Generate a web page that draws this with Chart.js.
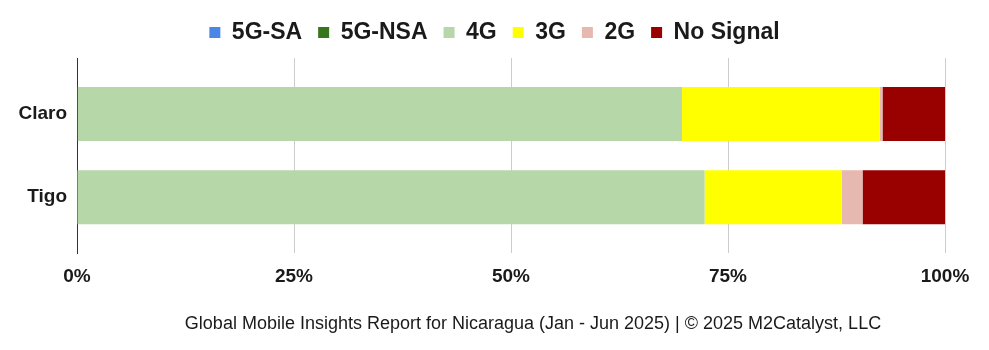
<!DOCTYPE html>
<html>
<head>
<meta charset="utf-8">
<script src="https://cdn.jsdelivr.net/npm/chart.js@4"></script>
<style>
  html, body { margin: 0; padding: 0; background: #fff; }
  .wrap { position: relative; width: 989px; height: 350px; }
  #footer {
    position: absolute; left: 0; width: 1066px; top: 313px;
    text-align: center; font: 18px "Liberation Sans", Arial, sans-serif; color: #1a1a1a;
  }
</style>
</head>
<body>
<div class="wrap">
  <canvas id="chart" width="989" height="350"></canvas>
  <div id="footer">Global Mobile Insights Report for Nicaragua (Jan - Jun 2025) | © 2025 M2Catalyst, LLC</div>
</div>
<script>
/* operadoras e séries (% do tempo em cada tecnologia) */
const operators = ['Claro', 'Tigo'];
const sa5g = [0, 0];
const nsa5g = [0.1, 0];
const lte4g = [69.6, 72.3];
const umts3g = [22.8, 15.8];
const gsm2g = [0.3, 2.4];
const noSignal = [7.2, 9.5];
const xTicks = [0, 25, 50, 75, 100];

const font = '"Liberation Sans", Arial, sans-serif';

/* eixo y numérico (0, 1, ...) para controlar o espaçamento entre as barras */
const rows = (arr) => arr.map((v, i) => ({ x: v, y: i }));

/* espaço extra abaixo da legenda */
const legendGap = {
  id: 'legendGap',
  beforeInit(chart) {
    const fit = chart.legend.fit;
    chart.legend.fit = function () {
      fit.bind(chart.legend)();
      this.height += 4;
    };
  }
};

const ctx = document.getElementById('chart').getContext('2d');
new Chart(ctx, {
  type: 'bar',
  data: {
    datasets: [
      { label: '5G-SA', data: rows(sa5g), backgroundColor: '#4a86e8' },
      { label: '5G-NSA', data: rows(nsa5g), backgroundColor: '#38761d' },
      { label: '4G', data: rows(lte4g), backgroundColor: '#b6d7a8' },
      { label: '3G', data: rows(umts3g), backgroundColor: '#ffff00' },
      { label: '2G', data: rows(gsm2g), backgroundColor: '#e6b8af' },
      { label: 'No Signal', data: rows(noSignal), backgroundColor: '#990000' }
    ]
  },
  options: {
    indexAxis: 'y',
    responsive: false,
    animation: false,
    layout: { padding: { left: 0, right: 0, top: 5, bottom: 50 } },
    datasets: { bar: { barPercentage: 1, categoryPercentage: 0.65, borderWidth: 0 } },
    scales: {
      x: {
        stacked: true,
        min: 0, max: 100,
        afterBuildTicks: s => { s.ticks = xTicks.map(v => ({ value: v })); },
        afterFit: s => { s.paddingRight = 44; },
        grid: { color: '#cccccc', drawTicks: false },
        border: { display: false },
        ticks: {
          padding: 12,
          color: '#1a1a1a',
          font: { family: font, size: 19, weight: 'bold' },
          callback: v => v + '%'
        }
      },
      y: {
        type: 'linear',
        stacked: true,
        reverse: true,
        offset: false,
        min: -0.675, max: operators.length - 1 + 0.675,
        afterBuildTicks: s => { s.ticks = operators.map((_, i) => ({ value: i })); },
        afterFit: s => { s.width = 77; },
        grid: { display: false, drawTicks: false, offset: false },
        border: { display: true, color: '#333333', width: 1 },
        ticks: {
          padding: 10,
          color: '#1a1a1a',
          font: { family: font, size: 19, weight: 'bold' },
          callback: v => operators[v]
        }
      }
    },
    plugins: {
      legend: {
        position: 'top',
        labels: {
          boxWidth: 11, boxHeight: 11, padding: 16,
          color: '#1a1a1a',
          font: { family: font, size: 23, weight: 'bold' }
        }
      },
      tooltip: { enabled: false }
    }
  },
  plugins: [legendGap]
});
</script>
</body>
</html>
